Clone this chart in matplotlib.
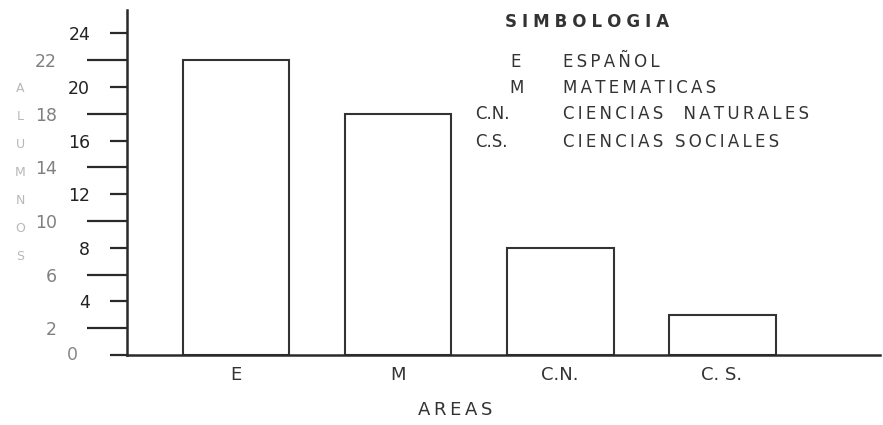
import matplotlib
matplotlib.use("Agg")
import matplotlib.pyplot as plt
from matplotlib.ticker import FixedLocator

# ---- data ----
categories = ["E", "M", "C.N.", "C.S."]
tick_labels = ["E", "M", "C.N.", "C. S."]
values = [22, 18, 8, 3]
legend_title = "SIMBOLOGIA"
legend_abbr = ["E", "M", "C.N.", "C.S."]
legend_names = ["ESPAÑOL", "MATEMATICAS", "CIENCIAS  NATURALES", "CIENCIAS SOCIALES"]
major_ticks = [0, 4, 8, 12, 16, 20, 24]
minor_ticks = [2, 6, 10, 14, 18, 22]
x_label = "AREAS"
y_label = "ALUMNOS"

W, H = 883, 425
INK = "#2a2a2a"


def sp(s, sep="\u200a"):
    return sep.join(s)


def fx(px):
    return px / W


def fy(py):
    return 1 - py / H


fig = plt.figure(figsize=(W / 100, H / 100), dpi=100)
fig.patch.set_facecolor("white")
ax = fig.add_axes([fx(127), fy(355), fx(880) - fx(127), fy(10) - fy(355)])
ax.set_facecolor("white")

xs = list(range(len(categories)))
ax.bar(xs, values, width=0.66, facecolor="white", edgecolor="#333333", linewidth=1.5)

ax.set_xlim(-0.673, 3.975)
ax.set_ylim(0, 25.75)

for s in ["top", "right"]:
    ax.spines[s].set_visible(False)
for s in ["left", "bottom"]:
    ax.spines[s].set_color(INK)
    ax.spines[s].set_linewidth(1.8)

ax.set_xticks(xs)
ax.set_xticklabels(tick_labels, fontsize=13, color="#333333")
ax.tick_params(axis="x", length=0, pad=8)

ax.yaxis.set_major_locator(FixedLocator(major_ticks))
ax.yaxis.set_minor_locator(FixedLocator(minor_ticks))
ax.set_yticklabels(["" if v == 0 else str(v) for v in major_ticks],
                   fontsize=12.5, color="#222222")
ax.set_yticklabels([str(v) for v in minor_ticks], minor=True,
                   fontsize=12.5, color="#808080")
ax.tick_params(axis="y", which="major", length=12.5, width=1.6, color=INK, pad=14)
ax.tick_params(axis="y", which="minor", length=28.5, width=1.6, color=INK, pad=22)
ax.text(-0.073, 0, "0", transform=ax.get_yaxis_transform(), ha="center",
        va="center", fontsize=12.5, color="#888888")

# faint vertical y label (stacked letters)
for i, ch in enumerate(y_label):
    fig.text(fx(20), fy(88 + i * 28), ch, ha="center", va="center",
             fontsize=9, color="#b8b8b8")

# x axis title
fig.text(fx(455), fy(410), sp(x_label, "\u2009"), ha="center", va="center",
         fontsize=13, color="#333333")

# legend block
fig.text(fx(505), fy(22), sp(legend_title, "\u2009\u200a"), ha="left", va="center",
         fontsize=12, color="#333333", fontweight="bold")
abbr_x = [510, 509, 475, 475]
rows_y = [62, 88, 114, 142]
for ab, nm, ax_, ry in zip(legend_abbr, legend_names, abbr_x, rows_y):
    fig.text(fx(ax_), fy(ry), ab, ha="left", va="center",
             fontsize=12, color="#333333")
    fig.text(fx(563), fy(ry), sp(nm, "\u200a\u200a"), ha="left", va="center",
             fontsize=12, color="#333333")

fig.savefig("out.png", dpi=100, facecolor="white")
